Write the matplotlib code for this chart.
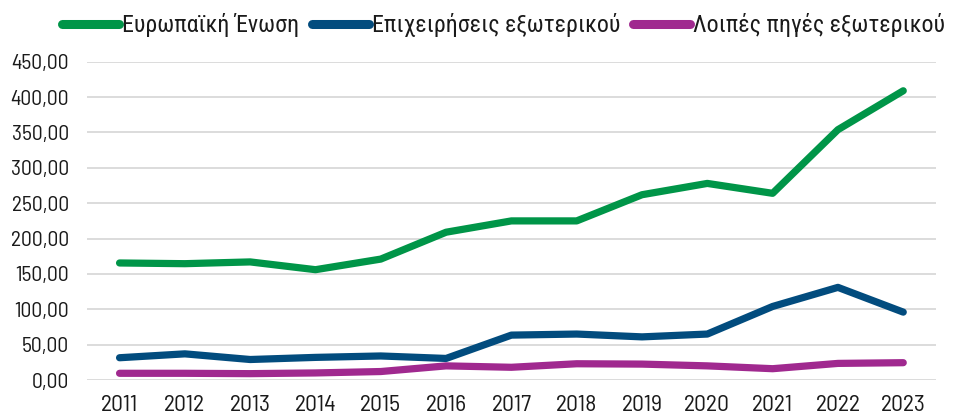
import matplotlib.pyplot as plt
from matplotlib.ticker import FuncFormatter

tick_font = ["Barlow Semi Condensed", "Roboto Condensed", "DejaVu Sans"]
legend_font = ["Roboto Condensed", "Liberation Sans Narrow", "DejaVu Sans"]
plt.rcParams["font.family"] = tick_font

years = [2011, 2012, 2013, 2014, 2015, 2016, 2017, 2018, 2019, 2020, 2021, 2022, 2023]
eu = [165.5, 164.5, 167, 156, 171, 209, 225, 225, 262, 278, 264, 354, 409]
foreign_business = [31.5, 37, 29, 32, 34, 30.5, 63.5, 65, 61, 65, 104, 131, 96]
other_foreign = [9.5, 9.5, 9, 10, 12, 20, 18, 23, 22.5, 20, 16, 23.5, 24.5]

labels = ["Ευρωπαϊκή Ένωση", "Επιχειρήσεις εξωτερικού", "Λοιπές πηγές εξωτερικού"]
colors = ["#009548", "#024C7E", "#A0298F"]

fig = plt.figure(figsize=(9.55, 4.16), dpi=100)
ax = fig.add_axes([0.091, 0.0865, 0.889, 0.765])

x = list(range(len(years)))
for vals, lab, col in zip([eu, foreign_business, other_foreign], labels, colors):
    ax.plot(x, vals, color=col, lw=5.2, solid_capstyle="round",
            solid_joinstyle="round", label=lab, zorder=3)

ax.set_xlim(-0.5, len(years) - 0.5)
ax.set_ylim(0, 450)
ax.set_yticks(range(0, 451, 50))
ax.yaxis.set_major_formatter(FuncFormatter(lambda v, _: f"{v:.2f}".replace(".", ",")))
ax.set_xticks(x)
ax.set_xticklabels([str(y) for y in years])
ax.tick_params(length=0, colors="#1a1a1a")
ax.tick_params(axis="x", pad=11, labelsize=17)
ax.tick_params(axis="y", pad=13, labelsize=15.5)
ax.grid(axis="y", color="#D9D9D9", lw=1.3, zorder=0)
for s in ax.spines.values():
    s.set_visible(False)

leg = fig.legend(loc="center", bbox_to_anchor=(0.527, 0.94), ncol=3, frameon=False,
                 prop={"family": legend_font, "size": 17.2}, handlelength=2.4,
                 handletextpad=0.1, columnspacing=0.55)
for t in leg.get_texts():
    t.set_color("#1a1a1a")
for ln in leg.get_lines():
    ln.set_linewidth(6.5)

fig.savefig("out.png", dpi=100)
